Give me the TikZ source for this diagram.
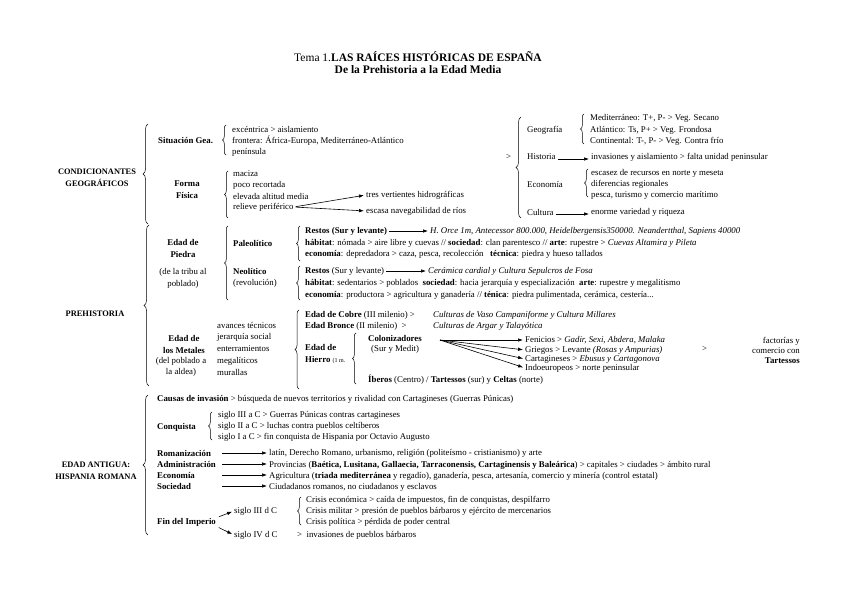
\documentclass[tikz,border=0pt]{standalone}
\usepackage{fontspec}
\setmainfont{Liberation Serif}
\usetikzlibrary{arrows.meta,decorations.pathreplacing}
\newcommand\tx{\fontsize{8.8}{10.5}\selectfont}
\newcommand\txb{\fontsize{8.8}{12}\selectfont\bfseries}
\begin{document}
\begin{tikzpicture}[x=1pt,y=-1pt,
  txt/.style={anchor=west,inner sep=0pt,font=\tx},
  sub/.style={anchor=west,inner sep=0pt,font=\tx\bfseries},
  twol/.style={align=center,inner sep=0pt,font=\txb},
  sec/.style={align=center,inner sep=0pt,font=\fontsize{8.4}{12}\selectfont\bfseries},
  brc/.style={decorate,decoration={brace,amplitude=#1},line width=0.5pt},
  brc/.default=3.5pt,
  arr/.style={-{Latex[length=5pt,width=3.5pt]},line width=0.6pt,shorten <=2pt,shorten >=2pt}]
  \path[use as bounding box] (0,0) rectangle (848,599);
  \node[inner sep=0pt,font=\fontsize{11.5}{13}\selectfont] (tit1) at (418,57) {Tema 1.\textbf{LAS RAÍCES HISTÓRICAS DE ESPAÑA}};
  \node[inner sep=0pt,font=\fontsize{11.5}{13}\selectfont\bfseries] (tit2) at (418,70) {De la Prehistoria a la Edad Media};

  \node[sec] (cond) at (97,178) {CONDICIONANTES\\GEOGRÁFICOS};
  \draw[brc=5pt] (148,224) -- (148,124);
  \node[sub] (sit) at (158,141) {Situación Gea.};
  \draw[brc] (226,155) -- (226,125);
  \node[txt] (s1) at (232,129) {excéntrica > aislamiento};
  \node[txt] (s2) at (232,141) {frontera: África-Europa, Mediterráneo-Atlántico};
  \node[txt] (s3) at (232,152) {península};
  \node[twol] (forma) at (187,190) {Forma\\Física};
  \draw[brc] (228,218) -- (228,171);
  \node[txt] (f1) at (233,174) {maciza};
  \node[txt] (f2) at (233,185) {poco recortada};
  \node[txt] (f3) at (233,196) {elevada altitud media};
  \node[txt] (f4) at (233,207) {relieve periférico};
  \node[txt] (f5) at (366,195) {tres vertientes hidrográficas};
  \node[txt] (f6) at (366,211) {escasa navegabilidad de ríos};
  \draw[arr] (f4.east) -- (f5.west);
  \draw[arr] (f4.east) -- (f6.west);
  \node[txt] (gt1) at (506,157) {>};
  \draw[brc=5pt] (521,218) -- (521,117);
  \node[txt] (geo) at (527,130) {Geografía};
  \draw[brc] (584,144) -- (584,114);
  \node[txt] (g1) at (590,118) {Mediterráneo: T+, P- > Veg. Secano};
  \node[txt] (g2) at (590,130) {Atlántico: Ts, P+ > Veg. Frondosa};
  \node[txt] (g3) at (590,141) {Continental: T-, P- > Veg. Contra frío};
  \node[txt] (his) at (527,157) {Historia};
  \node[txt] (h1) at (591,157) {invasiones y aislamiento > falta unidad peninsular};
  \draw[arr] ([yshift=-2pt]his.east) -- ([yshift=-2pt]h1.west);
  \node[txt] (eco) at (527,184) {Economía};
  \draw[brc] (588,197) -- (588,169);
  \node[txt] (e1) at (591,173) {escasez de recursos en norte y meseta};
  \node[txt] (e2) at (591,184) {diferencias regionales};
  \node[txt] (e3) at (591,195) {pesca, turismo y comercio marítimo};
  \node[txt] (cul) at (527,212) {Cultura};
  \node[txt] (c1) at (591,212) {enorme variedad y riqueza};
  \draw[arr] ([yshift=-2pt]cul.east) -- ([yshift=-2pt]c1.west);

  \node[sec] (pre) at (95,314) {PREHISTORIA};
  \draw[brc=5pt] (149,386) -- (149,225);
  \node[twol] (piedra) at (183,248) {Edad de\\Piedra};
  \node[twol,font=\fontsize{8.8}{12}\selectfont] (tribu) at (183,278) {(de la tribu al\\poblado)};
  \draw[brc] (228,300) -- (228,226);
  \node[sub] (paleo) at (233,243) {Paleolítico};
  \node[txt,align=left,font=\fontsize{8.8}{11}\selectfont] (neo) at (233,278) {\textbf{Neolítico}\\(revolución)};
  \draw[brc] (300,261) -- (300,226);
  \node[txt] (p1) at (305,231) {\textbf{Restos (Sur y levante)}};
  \node[txt] (p1b) at (430,231) {\itshape H. Orce 1m, Antecessor 800.000, Heidelbergensis350000. Neandertthal, Sapiens 40000};
  \draw[arr] (p1.east) -- (p1b.west);
  \node[txt] (p2) at (305,243) {\textbf{hábitat}: nómada > aire libre y cuevas // \textbf{sociedad}: clan parentesco // \textbf{arte}: rupestre > \textit{Cuevas Altamira y Pileta}};
  \node[txt] (p3) at (305,254) {\textbf{economía}: depredadora > caza, pesca, recolección\ \ \ \textbf{técnica}: piedra y hueso tallados};
  \draw[brc] (300,300) -- (300,266);
  \node[txt] (n1) at (305,271) {\textbf{Restos} (Sur y levante)};
  \node[txt] (n1b) at (428,271) {\itshape Cerámica cardial y Cultura Sepulcros de Fosa};
  \draw[arr] (n1.east) -- (n1b.west);
  \node[txt] (n2) at (305,283) {\textbf{hábitat}: sedentarios > poblados\ \ \textbf{sociedad}: hacia jerarquía y especialización\ \ \textbf{arte}: rupestre y megalitismo};
  \node[txt] (n3) at (305,295) {\textbf{economía}: productora > agricultura y ganadería // \textbf{ténica}: piedra pulimentada, cerámica, cestería...};

  \node[twol] (metal) at (184,344) {Edad de\\los Metales};
  \node[twol,font=\fontsize{8.8}{11}\selectfont] (aldea) at (181,367) {(del poblado a\\la aldea)};
  \node[txt] (m1) at (217,325) {avances técnicos};
  \node[txt] (m2) at (217,337) {jerarquía social};
  \node[txt] (m3) at (217,349) {enterramientos};
  \node[txt] (m4) at (217,361) {megalíticos};
  \node[txt] (m5) at (217,372) {murallas};
  \draw[brc=4pt] (299,389) -- (299,310);
  \node[txt] (cobre) at (305,315) {\textbf{Edad de Cobre} (III milenio) >};
  \node[txt] (cobreb) at (433,315) {\itshape Culturas de Vaso Campaniforme y Cultura Millares};
  \node[txt] (bronce) at (305,326) {\textbf{Edad Bronce} (II milenio)\ \ >};
  \node[txt] (bronceb) at (433,326) {\itshape Culturas de Argar y Talayótica};
  \node[txt,align=left,font=\fontsize{8.8}{12}\selectfont] (hierro) at (305,354) {\textbf{Edad de}\\\textbf{Hierro} {\fontsize{6}{7}\selectfont(1 m.}};
  \draw[brc] (356,384) -- (356,333);
  \node[sub] (colon) at (368,338) {Colonizadores};
  \node[txt] (medit) at (371,349) {(Sur y Medit)};
  \coordinate (ctail) at (440,340);
  \node[txt] (fen) at (525,340) {Fenicios > \textit{Gadir, Sexi, Abdera, Malaka}};
  \node[txt] (gri) at (525,350) {Griegos > Levante \textit{(Rosas y Ampurias)}};
  \node[txt] (car) at (525,359) {Cartagineses > \textit{Ebusus y Cartagonova}};
  \node[txt] (ind) at (525,368) {Indoeuropeos > norte peninsular};
  \foreach \t in {fen,gri,car,ind}
    \draw[arr,shorten <=0pt] (ctail) -- (\t.west);
  \node[txt] (gt2) at (702,349) {>};
  \node[txt,anchor=east,align=right,font=\fontsize{8.8}{10}\selectfont] (fact) at (800,350) {factorías y\\comercio con\\\textbf{Tartessos}};
  \node[txt] (iber) at (368,380) {\textbf{Íberos} (Centro) / \textbf{Tartessos} (sur) y \textbf{Celtas} (norte)};

  \node[sec] (antig) at (96,471) {EDAD ANTIGUA:\\HISPANIA ROMANA};
  \draw[brc=5pt] (148,535) -- (148,395);
  \node[txt] (causas) at (157,399) {\textbf{Causas de invasión} > búsqueda de nuevos territorios y rivalidad con Cartagineses (Guerras Púnicas)};
  \node[sub] (conq) at (157,427) {Conquista};
  \draw[brc] (212,440) -- (212,412);
  \node[txt] (q1) at (218,415) {siglo III a C > Guerras Púnicas contras cartagineses};
  \node[txt] (q2) at (218,426) {siglo II a C > luchas contra pueblos celtíberos};
  \node[txt] (q3) at (218,437) {siglo I a C > fin conquista de Hispania por Octavio Augusto};
  \coordinate (ax) at (222,0);
  \node[sub] (rom) at (157,453) {Romanización};
  \node[txt] (rom2) at (269,453) {latín, Derecho Romano, urbanismo, religión (politeísmo - cristianismo) y arte};
  \node[sub] (adm) at (157,464) {Administración};
  \node[txt] (adm2) at (269,465) {Provincias (\textbf{Baética, Lusitana, Gallaecia, Tarraconensis, Cartaginensis y Baleárica}) > capitales > ciudades > ámbito rural};
  \node[sub] (econ) at (157,475) {Economía};
  \node[txt] (econ2) at (269,476) {Agricultura (\textbf{triada mediterránea} y regadío), ganadería, pesca, artesanía, comercio y minería (control estatal)};
  \node[sub] (soc) at (157,486) {Sociedad};
  \node[txt] (soc2) at (269,487) {Ciudadanos romanos, no ciudadanos y esclavos};
  \foreach \a/\b in {rom/rom2,adm/adm2,econ/econ2,soc/soc2}
    \draw[arr,shorten <=0pt] (\a.east -| ax) -- (\b.west |- \a.east);
  \node[sub] (fin) at (157,522) {Fin del Imperio};
  \node[txt] (s3dc) at (234,511) {siglo III d C};
  \node[txt] (s4dc) at (234,535) {siglo IV d C};
  \draw[arr,shorten <=3pt] (fin.north east) -- (s3dc.west);
  \draw[arr,shorten <=3pt] (fin.south east) -- (s4dc.west);
  \node[txt] (inv) at (297,535) {>\ \ invasiones de pueblos bárbaros};
  \draw[brc] (301,525) -- (301,497);
  \node[txt] (cr1) at (306,500) {Crisis económica > caída de impuestos, fin de conquistas, despilfarro};
  \node[txt] (cr2) at (306,511) {Crisis militar > presión de pueblos bárbaros y ejército de mercenarios};
  \node[txt] (cr3) at (306,522) {Crisis política > pérdida de poder central};
\end{tikzpicture}
\end{document}
